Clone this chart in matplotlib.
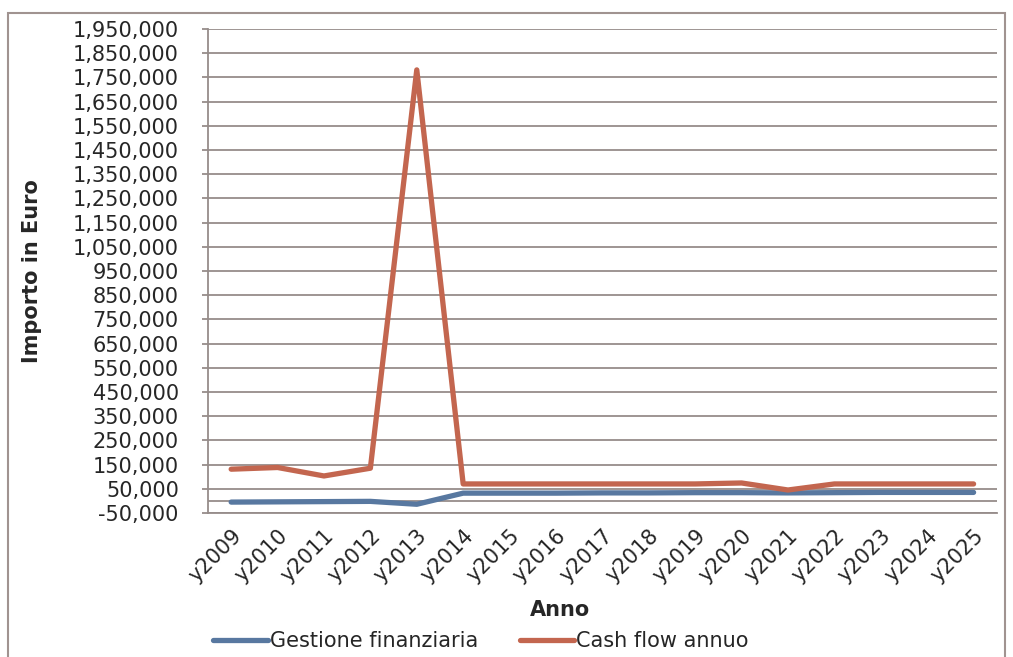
import matplotlib.pyplot as plt
from matplotlib.patches import Rectangle
from matplotlib.ticker import FuncFormatter

# dati
anni = ['y2009', 'y2010', 'y2011', 'y2012', 'y2013', 'y2014', 'y2015', 'y2016', 'y2017',
        'y2018', 'y2019', 'y2020', 'y2021', 'y2022', 'y2023', 'y2024', 'y2025']
gestione_finanziaria = [-5000, -4000, -3000, -2000, -14000, 32000, 32000, 32000, 33000,
                        33000, 34000, 34000, 33000, 34000, 35000, 35000, 35000]
cash_flow = [131000, 138000, 103000, 135000, 1781000, 70000, 70000, 70000, 70000,
             70000, 70000, 74000, 45000, 70000, 70000, 70000, 70000]

blu = '#5878A0'
rosso = '#C3664F'
griglia = '#968C8A'
testo = '#262626'
fs = 15

plt.rcParams['font.family'] = ['DejaVu Sans']

fig = plt.figure(figsize=(10.13, 6.57), dpi=100)
ax = fig.add_axes([0.2053, 0.2192, 0.7787, 0.7367])

ax.plot(range(len(anni)), gestione_finanziaria, color=blu, lw=3.8,
        solid_capstyle='round', label='Gestione finanziaria')
ax.plot(range(len(anni)), cash_flow, color=rosso, lw=3.8,
        solid_capstyle='round', label='Cash flow annuo')

ax.set_xlim(-0.5, len(anni) - 0.5)
ax.set_ylim(-50000, 1950000)
ax.set_yticks(range(-50000, 1950001, 100000))
ax.yaxis.set_major_formatter(FuncFormatter(lambda v, p: '{:,.0f}'.format(v)))
ax.grid(axis='y', color=griglia, lw=1.3)
ax.set_axisbelow(True)
ax.axhline(0, color=griglia, lw=1.3, zorder=1)

ax.set_xticks(range(len(anni)))
ax.set_xticklabels(anni, rotation=45, ha='right', va='top', rotation_mode='anchor')
ax.tick_params(axis='x', length=0, labelsize=fs, pad=9, colors=testo)
ax.tick_params(axis='y', length=4, width=1.3, color=griglia, labelsize=fs, pad=17,
               labelcolor=testo)

for lato in ['top', 'right']:
    ax.spines[lato].set_visible(False)
ax.spines['left'].set_color(griglia)
ax.spines['left'].set_linewidth(1.3)
ax.spines['bottom'].set_color(griglia)
ax.spines['bottom'].set_linewidth(1.3)

ax.set_ylabel('Importo in Euro', fontsize=fs, fontweight='bold', labelpad=22, color=testo)
fig.text(0.553, 0.072, 'Anno', fontsize=fs, fontweight='bold', ha='center', va='center',
         color=testo)

leg = ax.legend(loc='center left', bbox_to_anchor=(0.007, -0.265), ncol=2, frameon=False,
                fontsize=fs, handlelength=2.6, handletextpad=0.1, columnspacing=2.0,
                borderaxespad=0, borderpad=0)
for t in leg.get_texts():
    t.set_color(testo)

fig.patches.append(Rectangle((0.008, -0.05), 0.984, 1.03, transform=fig.transFigure,
                             fill=False, edgecolor='#A09390', lw=1.5))

fig.savefig('out.png', dpi=100)
